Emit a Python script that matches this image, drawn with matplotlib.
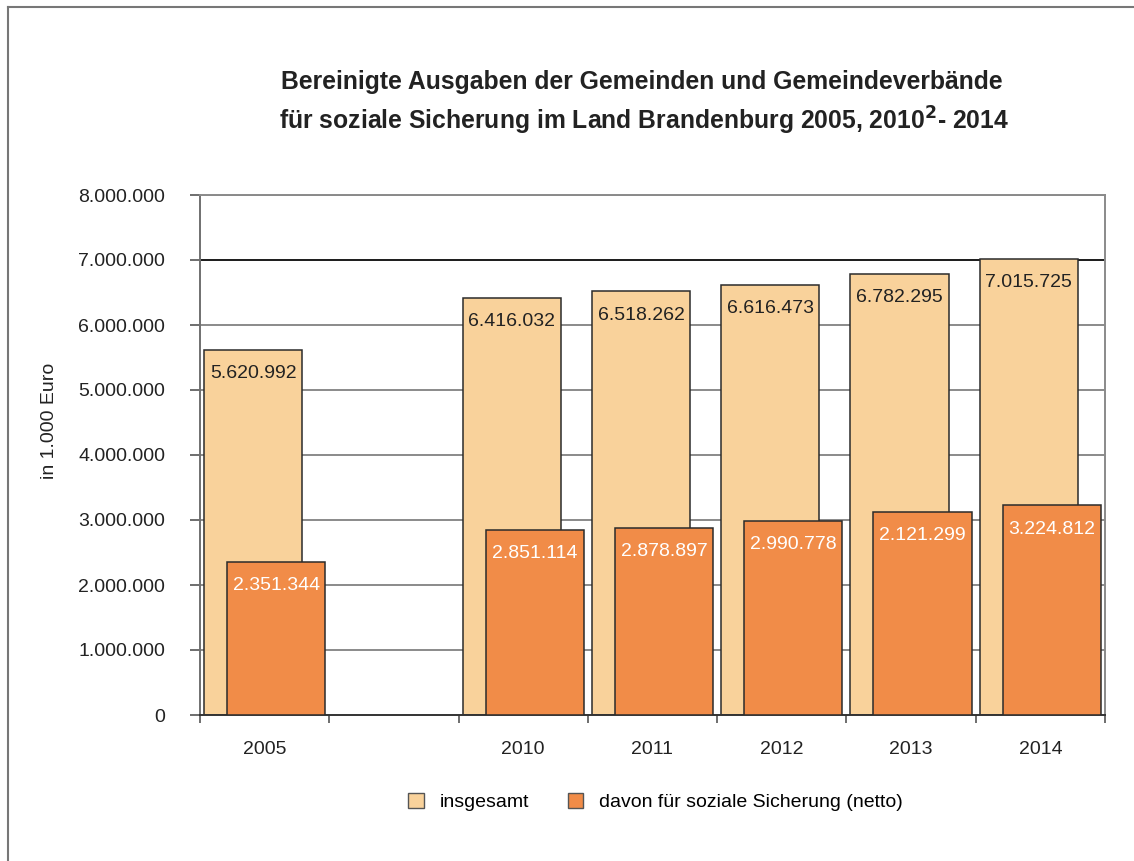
import matplotlib
matplotlib.use("Agg")
import matplotlib.pyplot as plt
import numpy as np
from matplotlib.lines import Line2D
from matplotlib.patches import Patch

plt.rcParams['font.family'] = ['Liberation Sans', 'DejaVu Sans']

categories = ["2005", "", "2010", "2011", "2012", "2013", "2014"]
insgesamt = [5620992, np.nan, 6416032, 6518262, 6616473, 6782295, 7015725]
soziale = [2351344, np.nan, 2851114, 2878897, 2990778, 3121299, 3224812]
insgesamt_labels = ["5.620.992", "", "6.416.032", "6.518.262", "6.616.473", "6.782.295", "7.015.725"]
soziale_labels = ["2.351.344", "", "2.851.114", "2.878.897", "2.990.778", "2.121.299", "3.224.812"]
yticks = [0, 1000000, 2000000, 3000000, 4000000, 5000000, 6000000, 7000000, 8000000]
ytick_labels = ["0", "1.000.000", "2.000.000", "3.000.000", "4.000.000", "5.000.000",
                "6.000.000", "7.000.000", "8.000.000"]

light = "#F9D29B"
dark = "#F18C48"
edge = "#2b2b2b"

fig = plt.figure(figsize=(11.34, 8.61), dpi=100)
ax = fig.add_axes([200/1134, 1-715/861, 905/1134, 520/861])

x = np.arange(len(categories))
w = 0.76
off = 0.089

for yv in yticks[1:]:
    col = "#1a1a1a" if yv == 7000000 else "#8a8a8a"
    ax.axhline(yv, color=col, lw=1.4, zorder=0)

b1 = ax.bar(x - off, insgesamt, width=w, color=light, edgecolor=edge, linewidth=1.1, zorder=2)
b2 = ax.bar(x + off, soziale, width=w, color=dark, edgecolor=edge, linewidth=1.1, zorder=3)

for i in range(len(categories)):
    if insgesamt_labels[i]:
        ax.annotate(insgesamt_labels[i], (x[i] - off, insgesamt[i]), xytext=(0, -11),
                    textcoords="offset points", ha="center", va="top", fontsize=14,
                    color="#222222", zorder=5)
    if soziale_labels[i]:
        ax.annotate(soziale_labels[i], (x[i] + off, soziale[i]), xytext=(0, -11),
                    textcoords="offset points", ha="center", va="top", fontsize=14,
                    color="white", zorder=5)

ax.set_xlim(-0.5, len(categories) - 0.5)
ax.set_ylim(0, 8000000)
ax.set_yticks(yticks)
ax.set_yticklabels(ytick_labels, fontsize=14, color="#222222")
ax.set_xticks(np.arange(-0.5, len(categories)), minor=False)
ax.set_xticklabels([])
ax.set_xticks(x, minor=True)
ax.set_xticklabels(categories, minor=True, fontsize=14, color="#222222")
ax.tick_params(axis="x", which="major", direction="out", length=6, color="#555555", width=1.2)
ax.tick_params(axis="x", which="minor", length=0, pad=19)
ax.tick_params(axis="y", direction="out", length=7, color="#555555", width=1.2, pad=18)

for s in ["top", "right"]:
    ax.spines[s].set_color("#8a8a8a")
    ax.spines[s].set_linewidth(1.4)
ax.spines["left"].set_color("#707070")
ax.spines["left"].set_linewidth(1.4)
ax.spines["bottom"].set_color("#333333")
ax.spines["bottom"].set_linewidth(1.4)

ax.set_ylabel("in 1.000 Euro", fontsize=14, color="#222222")
ax.yaxis.set_label_coords(-142/905, 0.565)

fig.text(0.566, 1 - 82/861, "Bereinigte Ausgaben der Gemeinden und Gemeindeverbände",
         ha="center", va="center", fontsize=17.8, fontweight="bold", color="#222222")
fig.text(0.568, 1 - 121/861, "für soziale Sicherung im Land Brandenburg 2005, 2010$^{\\mathbf{2}}$- 2014",
         ha="center", va="center", fontsize=17.8, fontweight="bold", color="#222222")

handles = [Patch(facecolor=light, edgecolor="#555555", label="insgesamt"),
           Patch(facecolor=dark, edgecolor="#555555", label="davon für soziale Sicherung (netto)")]
fig.legend(handles=handles, loc="center", bbox_to_anchor=(0.578, 1 - 802/861), ncol=2,
           frameon=False, fontsize=14, handlelength=0.8, handleheight=0.8,
           columnspacing=2.0, handletextpad=0.8)

# outer frame lines
fig.add_artist(Line2D([8/1134, 1], [1 - 7/861, 1 - 7/861], color="#777777", lw=1.5))
fig.add_artist(Line2D([8/1134, 8/1134], [0, 1 - 7/861], color="#777777", lw=1.5))

fig.savefig("out.png", dpi=100)
